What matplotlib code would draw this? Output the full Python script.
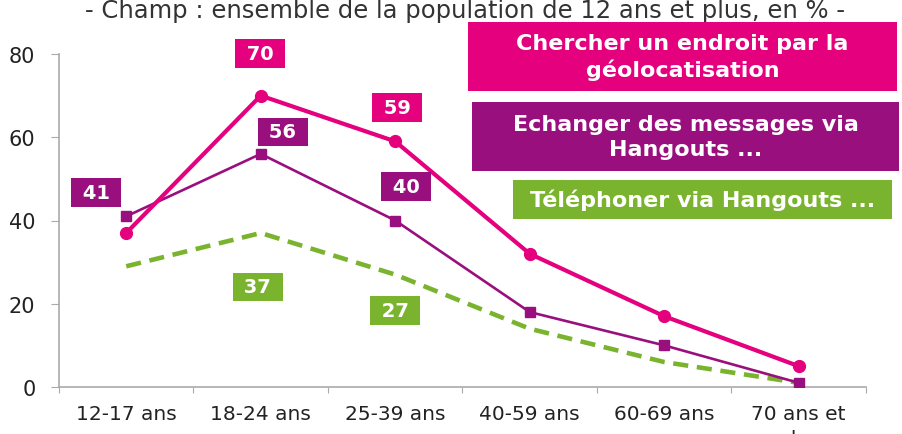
import matplotlib
matplotlib.use("Agg")
import matplotlib.pyplot as plt
import numpy as np

categories = ["12-17 ans", "18-24 ans", "25-39 ans", "40-59 ans", "60-69 ans", "70 ans et\nplus"]
chercher = [37, 70, 59, 32, 17, 5]
messages = [41, 56, 40, 18, 10, 1]
telephoner = [29, 37, 27, 14, 6, 1]
yticks = [0, 20, 40, 60, 80]
title = "- Champ : ensemble de la population de 12 ans et plus, en % -"
legend_labels = ["Chercher un endroit par la\ngéolocatisation",
                 "Echanger des messages via\nHangouts ...",
                 "Téléphoner via Hangouts ..."]

PINK = "#E5007D"
PURPLE = "#9A0F7E"
GREEN = "#7AB42E"

plt.rcParams['font.family'] = ['DejaVu Sans']

fig = plt.figure(figsize=(9.03, 4.35), dpi=100)
ax = fig.add_axes([59/903, 47/435, (866-59)/903, (388-55)/435])

x = np.arange(len(categories))
ax.plot(x, telephoner, color=GREEN, lw=3.3, ls=(0, (3.3, 1.9)), zorder=2)
ax.plot(x, messages, color=PURPLE, lw=1.9, marker='s', ms=6.5, zorder=3)
ax.plot(x, chercher, color=PINK, lw=3.0, marker='o', ms=8.5, zorder=4)

ax.set_xlim(-0.5, 5.5)
ax.set_ylim(0, 80)
ax.set_yticks(yticks)
ax.set_yticklabels([str(v) for v in yticks], fontsize=15, color="#222222")
ax.set_xticks(np.arange(-0.5, 6.0, 1.0))
ax.set_xticklabels([])
ax.set_xticks(x, minor=True)
ax.set_xticklabels(categories, minor=True, fontsize=14.5, color="#222222", linespacing=1.45)
ax.tick_params(axis='x', which='minor', length=0, pad=12)
ax.tick_params(axis='x', which='major', length=4.5, color="#AAAAAA")
ax.tick_params(axis='y', length=6, color="#AAAAAA", pad=11)
for s in ["top", "right"]:
    ax.spines[s].set_visible(False)
for s in ["left", "bottom"]:
    ax.spines[s].set_color("#AAAAAA")
    ax.spines[s].set_linewidth(1.2)

def label(series, i, dx, dy, color):
    ax.annotate(f" {series[i]} ", (x[i], series[i]), xytext=(dx, dy),
                textcoords='offset pixels', ha='center', va='center',
                fontsize=14, fontweight='bold', color='white', zorder=6,
                bbox=dict(boxstyle='square,pad=0.25', fc=color, ec='none'))

label(chercher, 1, -1, 42, PINK)
label(chercher, 2, 2, 34, PINK)
label(messages, 1, 22, 22, PURPLE)
label(messages, 0, -30, 24, PURPLE)
label(messages, 2, 11, 34, PURPLE)
label(telephoner, 1, -3, -54, GREEN)
label(telephoner, 2, 0, -36, GREEN)

fig.text(465/903, 1 - 18/435, title, ha='center', va='baseline', fontsize=17.5, color="#333333")

# legend boxes
boxes = [(468, 23, 897, 92, PINK), (472, 103, 899, 172, PURPLE), (513, 181, 892, 220, GREEN)]
for (x0, y0, x1, y1, c), txt in zip(boxes, legend_labels):
    fig.patches.append(plt.Rectangle((x0/903, 1 - y1/435), (x1-x0)/903, (y1-y0)/435,
                                     transform=fig.transFigure, fc=c, ec='none', zorder=10))
    fig.text((x0+x1)/2/903, 1 - (y0+y1)/2/435, txt, ha='center', va='center',
             fontsize=16, fontweight='bold', color='white', zorder=11, linespacing=1.3)

fig.savefig("out.png", dpi=100)
